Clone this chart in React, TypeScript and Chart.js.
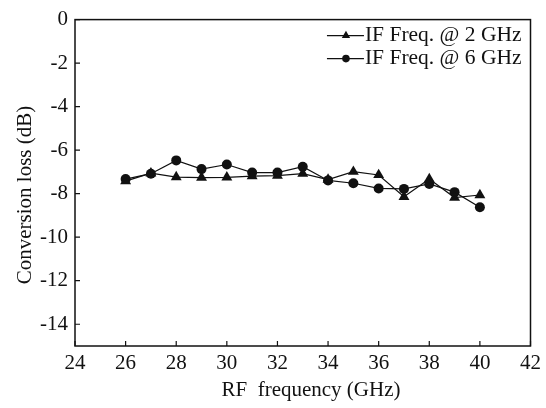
import React, { useEffect, useRef } from "react";
import { Chart, registerables } from "chart.js";

Chart.register(...registerables);

const RF_FREQ = [26, 27, 28, 29, 30, 31, 32, 33, 34, 35, 36, 37, 38, 39, 40];
const IF2_LOSS = [-7.42, -7.06, -7.24, -7.26, -7.25, -7.19, -7.17, -7.08, -7.35, -6.99, -7.14, -8.14, -7.33, -8.18, -8.06];
const IF6_LOSS = [-7.33, -7.08, -6.47, -6.87, -6.66, -7.03, -7.03, -6.76, -7.39, -7.52, -7.76, -7.78, -7.55, -7.93, -8.62];
const SERIES_LABELS = ["IF Freq. @ 2 GHz", "IF Freq. @ 6 GHz"];
const X_TICKS = [24, 26, 28, 30, 32, 34, 36, 38, 40, 42];
const Y_TICKS = [0, -2, -4, -6, -8, -10, -12, -14];
const X_TITLE = "RF  frequency (GHz)";
const Y_TITLE = "Conversion loss (dB)";

const FONT = "'Liberation Serif', 'Times New Roman', serif";
const INK = "#111";

const framePlugin = {
  id: "frame",
  afterDraw(chart: any) {
    const { ctx, chartArea } = chart;
    const { left, right, top, bottom } = chartArea;
    const xs = chart.scales.x;
    const ys = chart.scales.y;
    ctx.save();
    ctx.strokeStyle = INK;
    ctx.lineWidth = 1.5;
    ctx.strokeRect(left, top, right - left, bottom - top);
    ctx.lineWidth = 1.2;
    ctx.beginPath();
    X_TICKS.forEach((v) => {
      const px = xs.getPixelForValue(v);
      ctx.moveTo(px, bottom);
      ctx.lineTo(px, bottom - 5);
    });
    Y_TICKS.forEach((v) => {
      const py = ys.getPixelForValue(v);
      ctx.moveTo(left, py);
      ctx.lineTo(left + 5, py);
    });
    ctx.stroke();

    // axis titles
    ctx.fillStyle = INK;
    ctx.font = `21px ${FONT}`;
    ctx.textAlign = "center";
    ctx.textBaseline = "middle";
    ctx.fillText(X_TITLE, 311, 390);
    ctx.save();
    ctx.translate(25, 195);
    ctx.rotate(-Math.PI / 2);
    ctx.fillText(Y_TITLE, 0, 0);
    ctx.restore();

    // legend
    ctx.font = `21.5px ${FONT}`;
    ctx.textBaseline = "middle";
    ctx.textAlign = "left";
    const w = Math.max(...chart.data.datasets.map((d: any) => ctx.measureText(d.label).width));
    const textX = right - 9 - w;
    const rows = [top + 16, top + 39];
    chart.data.datasets.forEach((ds: any, i: number) => {
      const y = rows[i];
      ctx.strokeStyle = INK;
      ctx.lineWidth = 1.2;
      ctx.beginPath();
      ctx.moveTo(textX - 38, y);
      ctx.lineTo(textX - 1, y);
      ctx.stroke();
      ctx.fillStyle = INK;
      const mx = textX - 19;
      if (ds.pointStyle === "triangle") {
        const r = 4.8;
        ctx.beginPath();
        ctx.moveTo(mx, y - r);
        ctx.lineTo(mx + r * 0.866, y + r * 0.5);
        ctx.lineTo(mx - r * 0.866, y + r * 0.5);
        ctx.closePath();
        ctx.fill();
      } else {
        ctx.beginPath();
        ctx.arc(mx, y, 3.8, 0, Math.PI * 2);
        ctx.fill();
      }
      ctx.fillText(ds.label, textX, y);
    });
    ctx.restore();
  },
};

export default function App() {
  const ref = useRef<HTMLCanvasElement | null>(null);
  useEffect(() => {
    if (!ref.current) return;
    const chart = new Chart(ref.current, {
      type: "line",
      data: {
        datasets: [
          {
            label: SERIES_LABELS[0],
            data: RF_FREQ.map((x, i) => ({ x, y: IF2_LOSS[i] })),
            borderColor: INK,
            backgroundColor: INK,
            borderWidth: 1.2,
            pointStyle: "triangle",
            pointRadius: 6.3,
            pointBorderWidth: 0,
            tension: 0,
          },
          {
            label: SERIES_LABELS[1],
            data: RF_FREQ.map((x, i) => ({ x, y: IF6_LOSS[i] })),
            borderColor: INK,
            backgroundColor: INK,
            borderWidth: 1.2,
            pointStyle: "circle",
            pointRadius: 5,
            pointBorderWidth: 0,
            tension: 0,
          },
        ],
      },
      options: {
        responsive: false,
        animation: false,
        layout: { padding: { top: 17, right: 15, left: 0, bottom: 0 } },
        plugins: { legend: { display: false }, tooltip: { enabled: false } },
        scales: {
          x: {
            type: "linear",
            min: 24,
            max: 42,
            afterBuildTicks: (s: any) => {
              s.ticks = X_TICKS.map((v) => ({ value: v }));
            },
            afterFit: (s: any) => {
              s.height = 62;
            },
            grid: { display: false, drawTicks: false },
            border: { display: false },
            ticks: {
              color: INK,
              padding: 5,
              maxRotation: 0,
              autoSkip: false,
              font: { family: FONT, size: 21 },
            },
            title: { display: false },
          },
          y: {
            type: "linear",
            min: -15,
            max: 0,
            afterBuildTicks: (s: any) => {
              s.ticks = Y_TICKS.map((v) => ({ value: v }));
            },
            afterFit: (s: any) => {
              s.width = 75;
            },
            grid: { display: false, drawTicks: false },
            border: { display: false },
            ticks: {
              color: INK,
              padding: 7,
              autoSkip: false,
              font: { family: FONT, size: 21 },
            },
            title: { display: false },
          },
        },
      },
      plugins: [framePlugin],
    } as any);
    return () => chart.destroy();
  }, []);
  return (
    <div style={{ position: "absolute", left: 0, top: 0, width: 546, height: 408, background: "#fff" }}>
      <canvas ref={ref} width={546} height={408} />
    </div>
  );
}
